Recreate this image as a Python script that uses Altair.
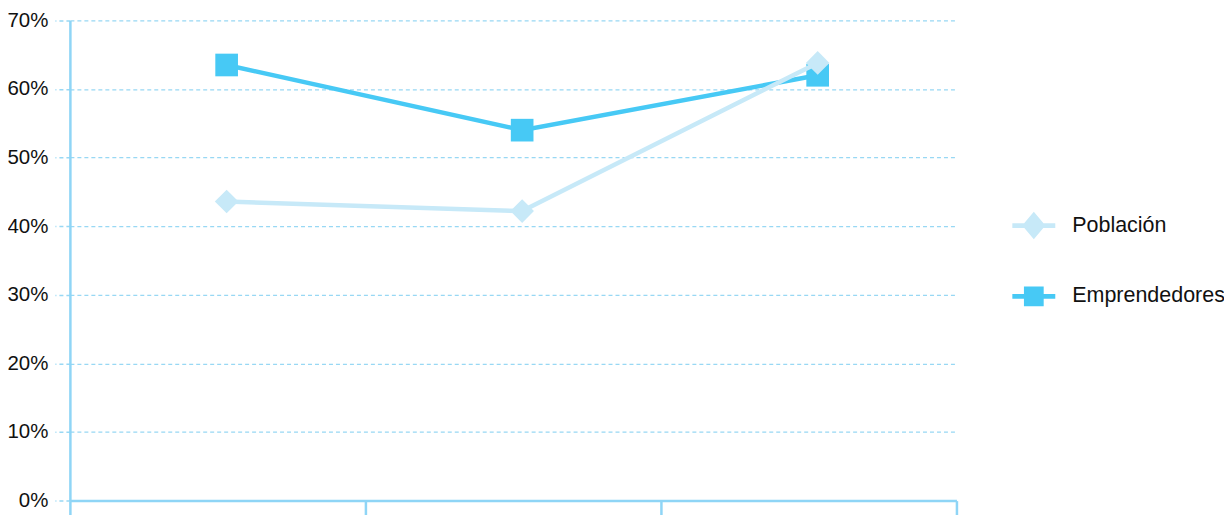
import altair as alt
import pandas as pd

categories = ["A", "B", "C"]
emprendedores = [0.635, 0.540, 0.620]
poblacion = [0.436, 0.422, 0.638]
y_ticks = [0, 0.1, 0.2, 0.3, 0.4, 0.5, 0.6, 0.7]

rows = []
for i, c in enumerate(categories):
    rows.append({"cat": c, "serie": "Emprendedores", "valor": emprendedores[i]})
for i, c in enumerate(categories):
    rows.append({"cat": c, "serie": "Población", "valor": poblacion[i]})
df = pd.DataFrame(rows)

AXIS_BLUE = "#8fd5f6"
GRID_BLUE = "#98d8f4"
C_POB = "#c7e9f8"
C_EMP = "#47c9f5"

legend_order = ["Población", "Emprendedores"]
path_d = "M-1,-0.11H1V0.11H-1Z M0,-0.64L0.54,0L0,0.64L-0.54,0Z"
path_s = "M-1,-0.11H1V0.11H-1Z M-0.46,-0.46H0.46V0.46H-0.46Z"

legend = alt.Legend(
    title=None,
    orient="none",
    legendX=944,
    legendY=184,
    padding=0,
    symbolSize=1849,
    symbolStrokeWidth=0,
    symbolOpacity=1,
    labelOffset=17,
    rowPadding=35,
    labelFont="Liberation Sans",
    labelFontSize=21.5,
    labelColor="#111111",
)

x_enc = alt.X(
    "cat:N",
    sort=categories,
    scale=alt.Scale(type="band", paddingInner=0, paddingOuter=0),
    axis=alt.Axis(
        title=None,
        labels=False,
        tickBand="extent",
        tickSize=14,
        tickColor=AXIS_BLUE,
        tickWidth=2.5,
        domainColor=AXIS_BLUE,
        domainWidth=2.5,
        grid=False,
    ),
)
y_enc = alt.Y(
    "valor:Q",
    scale=alt.Scale(domain=[0, 0.7], nice=False),
    axis=alt.Axis(
        title=None,
        values=y_ticks,
        format=".0%",
        labelFont="Liberation Sans",
        labelFontSize=20.5,
        labelColor="#111111",
        labelPadding=7,
        tickSize=15,
        tickColor=GRID_BLUE,
        tickWidth=1.5,
        tickDash=[4, 3],
        domainColor=AXIS_BLUE,
        domainWidth=2.5,
        grid=True,
        gridColor=GRID_BLUE,
        gridWidth=1.2,
        gridDash=[4, 3],
    ),
)

base = alt.Chart(df)

def series_layers(name, color, shape, size):
    sub = base.transform_filter(alt.datum.serie == name)
    ln = sub.mark_line(strokeWidth=4.5, color=color, xOffset=9).encode(x=x_enc, y=y_enc)
    pt = sub.mark_point(filled=True, opacity=1, size=size, color=color, shape=shape, xOffset=9).encode(x=x_enc, y=y_enc)
    return [ln, pt]

layers = series_layers("Emprendedores", C_EMP, "square", 515) + series_layers("Población", C_POB, "diamond", 560)

legend_layer = base.transform_filter("false").mark_point(filled=True, opacity=1).encode(
    color=alt.Color("serie:N", scale=alt.Scale(domain=legend_order, range=[C_POB, C_EMP]), legend=legend),
    shape=alt.Shape("serie:N", scale=alt.Scale(domain=legend_order, range=[path_d, path_s]), legend=legend),
)

chart = (
    alt.layer(*layers, legend_layer)
    .properties(
        width=888,
        height=481,
        autosize=alt.AutoSizeParams(type="none"),
        padding={"left": 62, "top": 12, "right": 268, "bottom": 14},
    )
    .configure_view(stroke=None)
)

chart.save("out.html", embed_options={"renderer": "svg", "actions": False})
